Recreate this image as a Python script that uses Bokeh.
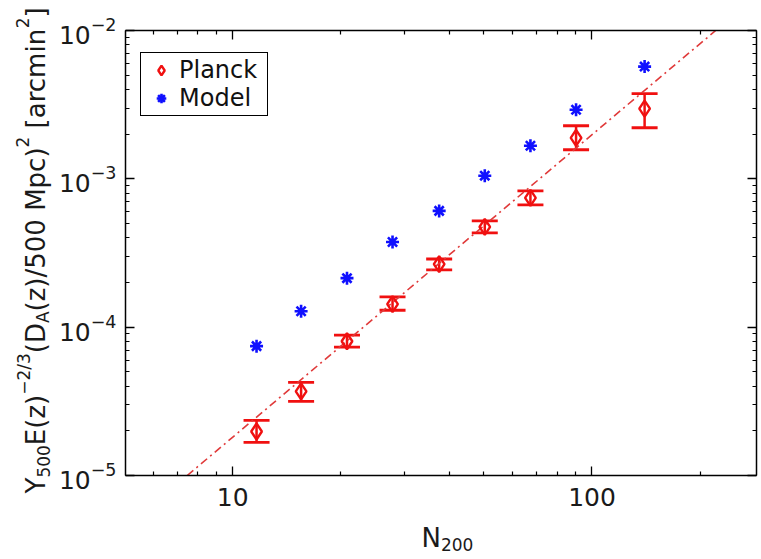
from math import pi
from bokeh.plotting import figure
from bokeh.layouts import row, column
from bokeh.models import (ColumnDataSource, Whisker, TeeHead, LogAxis, LogTicker, FixedTicker,
                          Label, Legend, LegendItem, Range1d, PrintfTickFormatter,
                          CustomLabelingPolicy)
from bokeh.embed import file_html
from bokeh.resources import INLINE

# ---------------- data ----------------
n200 = [11.65, 15.5, 20.8, 27.85, 37.55, 50.3, 67.4, 90.3, 140.1]
planck_y = [1.98e-5, 3.69e-5, 8.04e-5, 1.43e-4, 2.66e-4, 4.74e-4, 7.44e-4, 1.89e-3, 2.97e-3]
planck_hi = [2.35e-5, 4.25e-5, 8.83e-5, 1.60e-4, 2.88e-4, 5.20e-4, 8.30e-4, 2.28e-3, 3.75e-3]
planck_lo = [1.67e-5, 3.16e-5, 7.33e-5, 1.30e-4, 2.43e-4, 4.32e-4, 6.67e-4, 1.57e-3, 2.21e-3]
model_y = [7.45e-5, 1.28e-4, 2.14e-4, 3.75e-4, 6.08e-4, 1.05e-3, 1.67e-3, 2.92e-3, 5.71e-3]
fit_x = [7.47, 221.0]
fit_y = [1.0e-5, 1.0e-2]
legend_labels = ["Planck", "Model"]
x_major_ticks = [10, 100]
x_minor_ticks = [6, 7, 8, 9, 20, 30, 40, 50, 60, 70, 80, 90, 200]

RED = "#f01010"
BLUE = "#1010ff"
FONT = "DejaVu Sans"
TXT = "#1a1a1a"

YLAB_W = 53
MAIN_H = 520
FRAME_LEFT = 125

p = figure(width=761 - YLAB_W, height=MAIN_H, x_axis_type="log", y_axis_type="log",
           x_range=Range1d(5.03, 287), y_range=Range1d(1e-5, 1e-2),
           output_backend="svg", toolbar_location=None,
           min_border_left=FRAME_LEFT - YLAB_W, min_border_right=0, min_border_top=30,
           min_border_bottom=MAIN_H - 475)
p.grid.visible = False
p.outline_line_color = None
p.background_fill_color = "white"
p.border_fill_color = "white"

hide_all = CustomLabelingPolicy(code="return new Set()")

def style_axis(ax, labels=True):
    ax.axis_line_color = "black"
    ax.axis_line_width = 1.5
    ax.major_tick_line_color = "black"
    ax.minor_tick_line_color = "black"
    ax.major_tick_line_width = 1.3
    ax.minor_tick_line_width = 1.2
    ax.major_tick_in = 9
    ax.major_tick_out = 0
    ax.minor_tick_in = 4
    ax.minor_tick_out = 0
    if labels:
        ax.major_label_text_font = FONT
        ax.major_label_text_font_size = "25px"
        ax.major_label_text_color = TXT
    else:
        ax.major_label_text_font_size = "1px"
        ax.major_label_standoff = 0
        ax.major_label_policy = hide_all

for ax in p.xaxis:
    style_axis(ax)
    ax.ticker = FixedTicker(ticks=x_major_ticks, minor_ticks=x_minor_ticks)
    ax.formatter = PrintfTickFormatter(format="%d")
    ax.major_label_standoff = 12
for ax in p.yaxis:
    style_axis(ax)
    ax.ticker = LogTicker(num_minor_ticks=10)
    ax.major_label_standoff = 9

top_ax = LogAxis(ticker=FixedTicker(ticks=x_major_ticks, minor_ticks=x_minor_ticks))
style_axis(top_ax, labels=False)
p.add_layout(top_ax, "above")
right_ax = LogAxis(ticker=LogTicker(num_minor_ticks=10))
style_axis(right_ax, labels=False)
p.add_layout(right_ax, "right")

src = ColumnDataSource(dict(x=n200, y=planck_y, upper=planck_hi, lower=planck_lo, m=model_y))

# fit line
p.line(fit_x, fit_y, line_color="#e03a3a", line_width=1.6, line_dash="8 4 2 4")

# error bars
w = Whisker(source=src, base="x", upper="upper", lower="lower", dimension="height",
            line_color=RED, line_width=2.5,
            upper_head=TeeHead(size=26, line_color=RED, line_width=2.8),
            lower_head=TeeHead(size=26, line_color=RED, line_width=2.8))
p.add_layout(w)

r_planck = p.scatter("x", "y", source=src, marker="diamond", size=16,
                     fill_color=None, line_color=RED, line_width=2.4)
r_model = p.scatter("x", "m", source=src, marker="asterisk", size=13,
                    line_color=BLUE, line_width=2.6)

legend = Legend(items=[LegendItem(label=legend_labels[0], renderers=[r_planck]),
                       LegendItem(label=legend_labels[1], renderers=[r_model])],
                location=(15, 359), orientation="vertical",
                label_text_font=FONT, label_text_font_size="24px", label_text_color="#111111",
                border_line_color="black", border_line_width=1.5, border_line_alpha=1.0,
                background_fill_color="white", background_fill_alpha=1.0,
                padding=3, spacing=0, margin=0, glyph_width=34, glyph_height=24,
                label_height=24, label_standoff=1, label_width=85)
p.add_layout(legend)

# ------------ composed axis titles (sub/superscripts) ------------
ADV = {"Y": 611, "E": 632, "(": 390, "z": 525, ")": 390, "D": 770, "/": 337, "5": 636,
       "0": 636, " ": 318, "M": 863, "p": 635, "c": 550, "[": 390, "a": 613, "r": 411,
       "m": 974, "i": 278, "n": 634, "]": 390, "−": 838, "2": 636, "3": 636, "A": 684,
       "N": 748}

def tw(s, size):
    return sum(ADV.get(ch, 600) for ch in s) * size / 1000.0

def blank_fig(w, h):
    f = figure(width=w, height=h, x_range=Range1d(0, w), y_range=Range1d(0, h),
               output_backend="svg", toolbar_location=None,
               x_axis_location=None, y_axis_location=None,
               min_border=0, min_border_left=0, min_border_right=0,
               min_border_top=0, min_border_bottom=0)
    f.grid.visible = False
    f.outline_line_color = None
    f.background_fill_color = "white"
    f.border_fill_color = "white"
    return f

# y-axis title: separate narrow panel at the left
fy = blank_fig(YLAB_W, 559)
S, s = 26, 17
# (text, font size, baseline shift, extra gap before the piece in em of S)
ylab = [("Y", S, 0, 0), ("500", s, -8, 0), ("E(z)", S, 0, 0), ("−2/3", s, 12, 0),
        ("(D", S, 0, 0), ("A", s, -7, 0), ("(z)/500 Mpc)", S, 0, 0), ("2", s, 13, 0),
        ("[arcmin", S, 0, 0.318), ("2", s, 13, 0), ("]", S, 0, 0)]
base_x = 35.0
pos = 559 - 493.0
for txt, size, shift, gap in ylab:
    pos += gap * S
    fy.add_layout(Label(x=base_x - shift, y=pos, x_units="screen", y_units="screen",
                        text=txt, angle=pi / 2, text_font=FONT, text_font_size=f"{size}px",
                        text_color=TXT, text_align="left", text_baseline="alphabetic"))
    pos += tw(txt, size)

# x-axis title: strip under the main plot (its frame is aligned with the main frame)
XL_H = 559 - MAIN_H
fx = blank_fig(761 - YLAB_W, XL_H)
xlab = [("N", S, 0), ("200", s, -7)]
posx = 421.0 - FRAME_LEFT
for txt, size, shift in xlab:
    fx.add_layout(Label(x=posx, y=22 + shift, x_units="screen", y_units="screen",
                        text=txt, text_font=FONT, text_font_size=f"{size}px",
                        text_color=TXT, text_align="left", text_baseline="alphabetic"))
    posx += tw(txt, size)

layout = row(fy, column(p, fx, spacing=0), spacing=0)
open("out.html", "w").write(file_html(layout, INLINE))
